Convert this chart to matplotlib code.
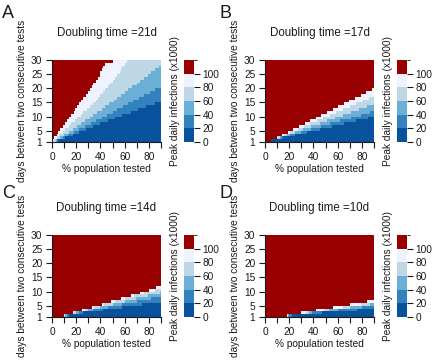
import numpy as np
import matplotlib
matplotlib.use('Agg')
import matplotlib.pyplot as plt
from matplotlib.colors import ListedColormap, BoundaryNorm

plt.rcParams['font.family'] = ['Liberation Sans', 'DejaVu Sans']

# grid: days between tests (rows 1..29 -> cell [d, d+1]) and % tested (0..90)
days = np.arange(1, 31)
pct_edges = np.arange(0, 91)

level_bounds = [0, 20, 40, 60, 80, 100, 120]
level_mid = [10, 30, 50, 70, 90, 110]
level_colors = ['#08519C', '#3182BD', '#6BAED6', '#BDD7E7', '#EFF3FF', '#990000']

# for each row (day 1..29): % tested where each band ends (91 = beyond the axis)
# A: doubling time 21d
A_x100 = [1, 2, 4, 5, 7, 9, 11, 12, 14, 16, 18, 19, 21, 22, 24, 26, 28, 30, 31, 33, 34, 36, 38, 40, 40, 41, 42, 44, 50]
A_x80 = [2, 4, 6, 9, 11, 14, 16, 19, 21, 24, 26, 29, 31, 34, 36, 38, 40, 42, 44, 46, 48, 50, 52, 54, 56, 57, 58, 60, 62]
A_x60 = [3, 7, 10, 14, 17, 21, 24, 27, 31, 34, 37, 41, 44, 47, 51, 54, 57, 60, 63, 66, 70, 73, 76, 79, 82, 85, 88, 91, 91]
A_x40 = [4, 9, 13, 18, 22, 27, 32, 36, 41, 45, 50, 54, 59, 63, 67, 72, 76, 81, 85, 90, 91, 91, 91, 91, 91, 91, 91, 91, 91]
A_x20 = [5, 11, 17, 22, 28, 34, 40, 46, 52, 58, 65, 71, 78, 85, 91, 91, 91, 91, 91, 91, 91, 91, 91, 91, 91, 91, 91, 91, 91]

# B: doubling time 17d
B_x100 = [5, 10, 14, 19, 23, 28, 33, 37, 42, 46, 51, 56, 60, 65, 69, 74, 79, 83, 88, 91, 91, 91, 91, 91, 91, 91, 91, 91, 91]
B_x80 = [5, 10, 16, 21, 27, 32, 37, 43, 48, 54, 59, 64, 70, 75, 81, 86, 91, 91, 91, 91, 91, 91, 91, 91, 91, 91, 91, 91, 91]
B_x60 = [5, 12, 18, 25, 31, 38, 45, 51, 58, 64, 71, 78, 84, 91, 91, 91, 91, 91, 91, 91, 91, 91, 91, 91, 91, 91, 91, 91, 91]
B_x40 = [5, 13, 21, 30, 38, 46, 54, 62, 71, 79, 87, 91, 91, 91, 91, 91, 91, 91, 91, 91, 91, 91, 91, 91, 91, 91, 91, 91, 91]
B_x20 = [5, 15, 25, 35, 45, 55, 65, 75, 85, 91, 91, 91, 91, 91, 91, 91, 91, 91, 91, 91, 91, 91, 91, 91, 91, 91, 91, 91, 91]

# C: doubling time 14d
C_x100 = [10, 17, 25, 33, 41, 49, 57, 65, 73, 80, 86, 91, 91, 91, 91, 91, 91, 91, 91, 91, 91, 91, 91, 91, 91, 91, 91, 91, 91]
C_x80 = [10, 18, 27, 35, 43, 52, 60, 68, 76, 85, 91, 91, 91, 91, 91, 91, 91, 91, 91, 91, 91, 91, 91, 91, 91, 91, 91, 91, 91]
C_x60 = [11, 20, 30, 40, 50, 60, 69, 79, 89, 91, 91, 91, 91, 91, 91, 91, 91, 91, 91, 91, 91, 91, 91, 91, 91, 91, 91, 91, 91]
C_x40 = [12, 22, 34, 46, 58, 70, 82, 91, 91, 91, 91, 91, 91, 91, 91, 91, 91, 91, 91, 91, 91, 91, 91, 91, 91, 91, 91, 91, 91]
C_x20 = [14, 26, 42, 58, 74, 90, 91, 91, 91, 91, 91, 91, 91, 91, 91, 91, 91, 91, 91, 91, 91, 91, 91, 91, 91, 91, 91, 91, 91]

# D: doubling time 10d
D_x100 = [18, 30, 42, 56, 70, 84, 91, 91, 91, 91, 91, 91, 91, 91, 91, 91, 91, 91, 91, 91, 91, 91, 91, 91, 91, 91, 91, 91, 91]
D_x80 = [19, 34, 49, 64, 79, 91, 91, 91, 91, 91, 91, 91, 91, 91, 91, 91, 91, 91, 91, 91, 91, 91, 91, 91, 91, 91, 91, 91, 91]
D_x60 = [19, 36, 53, 70, 87, 91, 91, 91, 91, 91, 91, 91, 91, 91, 91, 91, 91, 91, 91, 91, 91, 91, 91, 91, 91, 91, 91, 91, 91]
D_x40 = [20, 39, 60, 80, 91, 91, 91, 91, 91, 91, 91, 91, 91, 91, 91, 91, 91, 91, 91, 91, 91, 91, 91, 91, 91, 91, 91, 91, 91]
D_x20 = [22, 47, 76, 91, 91, 91, 91, 91, 91, 91, 91, 91, 91, 91, 91, 91, 91, 91, 91, 91, 91, 91, 91, 91, 91, 91, 91, 91, 91]

panel_letters = ['A', 'B', 'C', 'D']
doubling_times = [21, 17, 14, 10]
panel_bands = [
    [A_x20, A_x40, A_x60, A_x80, A_x100],
    [B_x20, B_x40, B_x60, B_x80, B_x100],
    [C_x20, C_x40, C_x60, C_x80, C_x100],
    [D_x20, D_x40, D_x60, D_x80, D_x100],
]

W, H = 440, 360
cmap = ListedColormap(level_colors)
norm = BoundaryNorm(level_bounds, cmap.N)
fs = 7.3


def px_axes(fig, x0, y0, x1, y1):
    return fig.add_axes([x0 / W, 1 - y1 / H, (x1 - x0) / W, (y1 - y0) / H])


def build_grid(bands):
    xc = pct_edges[:-1] + 0.5
    level = np.zeros((len(days) - 1, len(xc)), dtype=int)
    for b in bands:
        level += (xc[None, :] < np.array(b)[:, None]).astype(int)
    return np.array(level_mid)[level]


fig = plt.figure(figsize=(W / 100, H / 100), dpi=100)
txt = '#1a1a1a'

for i in range(4):
    dx = 213 * (i % 2)
    dy = 175 * (i // 2)
    ax = px_axes(fig, 52 + dx, 60 + dy, 161 + dx, 142 + dy)
    z = build_grid(panel_bands[i])
    mesh = ax.pcolormesh(pct_edges, days, z, cmap=cmap, norm=norm, shading='flat')
    ax.set_xlim(0, 90)
    ax.set_ylim(1, 30)
    ax.set_xticks(range(0, 91, 10))
    ax.set_xticklabels(['0', '', '20', '', '40', '', '60', '', '80', ''])
    ax.set_yticks([1, 5, 10, 15, 20, 25, 30])
    for s in ['top', 'right']:
        ax.spines[s].set_visible(False)
    for s in ['left', 'bottom']:
        ax.spines[s].set_linewidth(0.8)
        ax.spines[s].set_color(txt)
    ax.tick_params(direction='out', length=4, width=0.8, labelsize=fs,
                   pad=3, colors=txt)
    ax.set_xlabel('% population tested', fontsize=fs, labelpad=1.5, color=txt)
    ax.set_ylabel('days between two consecutive tests', fontsize=fs,
                  labelpad=2.5, color=txt)
    ax.set_title('Doubling time =%dd' % doubling_times[i], fontsize=8.3,
                 pad=17, color=txt)

    cax = px_axes(fig, 184 + dx, 60 + dy, 194 + dx, 142 + dy)
    cb = fig.colorbar(mesh, cax=cax, ticks=[0, 20, 40, 60, 80, 100])
    cb.outline.set_visible(False)
    cax.tick_params(direction='out', length=4, width=0.8, labelsize=fs,
                    pad=2, colors=txt)
    cax.yaxis.set_label_position('left')
    cb.set_label('Peak daily infections (x1000)', fontsize=fs, labelpad=3,
                 color=txt)

    fig.text((2 + 217 * (i % 2)) / W, 1 - (18 + 180 * (i // 2)) / H,
             panel_letters[i], fontsize=13, va='baseline', ha='left', color=txt)

fig.savefig('out.png', dpi=100)
